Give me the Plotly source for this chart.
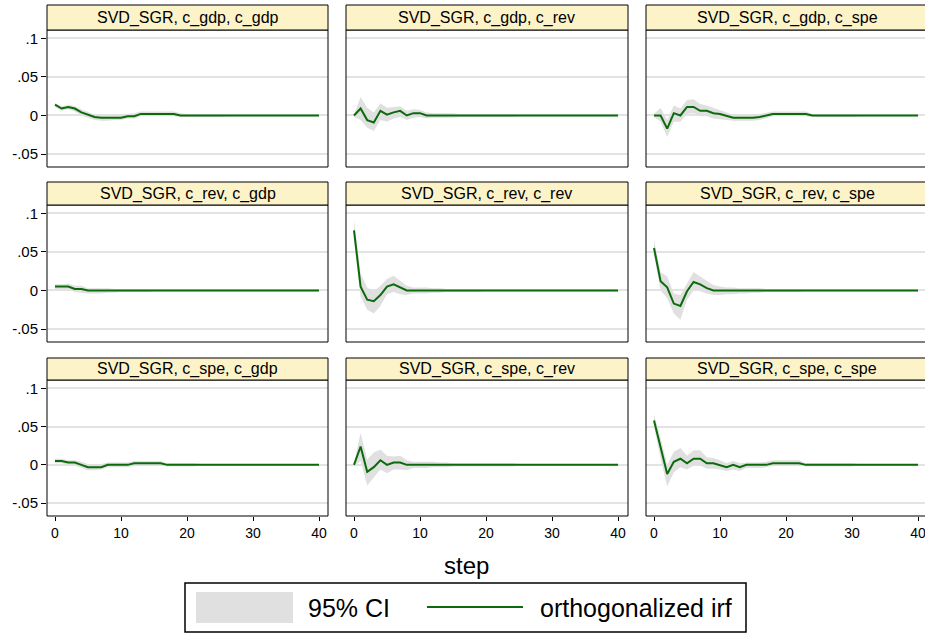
import plotly.graph_objects as go

W, H = 925, 634

steps = list(range(41))
variables = ["c_gdp", "c_rev", "c_spe"]
model = "SVD_SGR"
ytick_vals = [-0.05, 0, 0.05, 0.1]
ytick_text = ["-.05", "0", ".05", ".1"]
xtick_vals = [0, 10, 20, 30, 40]
xtick_text = ["0", "10", "20", "30", "40"]
legend_labels = ["95% CI", "orthogonalized irf"]
x_title = "step"

# impulse c_gdp
irf_gdp_gdp = [0.014, 0.009, 0.011, 0.009, 0.004, 0.001, -0.002, -0.003, -0.003, -0.003, -0.003, -0.001, -0.001, 0.002, 0.002, 0.002, 0.002, 0.002, 0.002, 0.0, 0.0,
               0.0, 0.0, 0.0, 0.0, 0.0, 0.0, 0.0, 0.0, 0.0, 0.0, 0.0, 0.0, 0.0, 0.0, 0.0, 0.0, 0.0, 0.0, 0.0, 0.0]
lo_gdp_gdp = [0.011, 0.006, 0.008, 0.005, 0.0, -0.003, -0.006, -0.007, -0.007, -0.006, -0.006, -0.004, -0.004, -0.001, -0.001, -0.001, -0.001, -0.001, -0.001, -0.002, -0.002,
              -0.002, -0.002, -0.002, -0.002, -0.002, -0.001, -0.001, -0.001, -0.001, -0.001, -0.001, -0.001, -0.001, -0.001, -0.001, -0.001, -0.001, -0.001, -0.001, -0.001]
hi_gdp_gdp = [0.016, 0.012, 0.014, 0.012, 0.008, 0.004, 0.001, 0.0, 0.0, 0.001, 0.001, 0.002, 0.003, 0.005, 0.005, 0.005, 0.005, 0.005, 0.005, 0.003, 0.002,
              0.002, 0.002, 0.002, 0.002, 0.002, 0.001, 0.001, 0.001, 0.001, 0.001, 0.001, 0.001, 0.001, 0.001, 0.001, 0.001, 0.001, 0.001, 0.001, 0.001]

irf_gdp_rev = [0.0, 0.009, -0.006, -0.009, 0.006, 0.001, 0.004, 0.006, 0.0, 0.003, 0.003, 0.0, 0.0, 0.0, 0.0, 0.0, 0.0, 0.0, 0.0, 0.0, 0.0,
               0.0, 0.0, 0.0, 0.0, 0.0, 0.0, 0.0, 0.0, 0.0, 0.0, 0.0, 0.0, 0.0, 0.0, 0.0, 0.0, 0.0, 0.0, 0.0, 0.0]
lo_gdp_rev = [-0.002, -0.006, -0.016, -0.020, -0.006, -0.008, -0.004, -0.002, -0.006, -0.003, -0.002, -0.004, -0.003, -0.003, -0.003, -0.003, -0.002, -0.002, -0.002, -0.002, -0.002,
              -0.002, -0.002, -0.002, -0.002, -0.001, -0.001, -0.001, -0.001, -0.001, -0.001, -0.001, -0.001, -0.001, -0.001, -0.001, -0.001, -0.001, -0.001, -0.001, -0.001]
hi_gdp_rev = [0.002, 0.024, 0.010, 0.004, 0.016, 0.010, 0.011, 0.012, 0.006, 0.008, 0.007, 0.004, 0.003, 0.003, 0.003, 0.003, 0.002, 0.002, 0.002, 0.002, 0.002,
              0.002, 0.002, 0.002, 0.002, 0.001, 0.001, 0.001, 0.001, 0.001, 0.001, 0.001, 0.001, 0.001, 0.001, 0.001, 0.001, 0.001, 0.001, 0.001, 0.001]

irf_gdp_spe = [0.0, 0.0, -0.017, 0.003, 0.0, 0.011, 0.011, 0.006, 0.006, 0.003, 0.002, 0.0, -0.003, -0.003, -0.003, -0.003, -0.002, 0.0, 0.002, 0.002, 0.002,
               0.002, 0.002, 0.002, 0.0, 0.0, 0.0, 0.0, 0.0, 0.0, 0.0, 0.0, 0.0, 0.0, 0.0, 0.0, 0.0, 0.0, 0.0, 0.0, 0.0]
lo_gdp_spe = [-0.002, -0.008, -0.028, -0.008, -0.008, 0.002, 0.003, -0.001, -0.001, -0.004, -0.005, -0.006, -0.007, -0.007, -0.007, -0.007, -0.006, -0.003, -0.001, -0.001, -0.001,
              -0.001, -0.001, -0.001, -0.002, -0.002, -0.002, -0.002, -0.002, -0.002, -0.002, -0.001, -0.001, -0.001, -0.001, -0.001, -0.001, -0.001, -0.001, -0.001, -0.001]
hi_gdp_spe = [0.002, 0.010, -0.006, 0.013, 0.009, 0.020, 0.021, 0.015, 0.013, 0.010, 0.008, 0.005, 0.001, 0.001, 0.001, 0.001, 0.002, 0.004, 0.005, 0.005, 0.005,
              0.005, 0.005, 0.005, 0.002, 0.002, 0.002, 0.002, 0.002, 0.002, 0.002, 0.001, 0.001, 0.001, 0.001, 0.001, 0.001, 0.001, 0.001, 0.001, 0.001]

# impulse c_rev
irf_rev_gdp = [0.005, 0.005, 0.005, 0.002, 0.002, 0.0, 0.0, 0.0, 0.0, 0.0, 0.0, 0.0, 0.0, 0.0, 0.0, 0.0, 0.0, 0.0, 0.0, 0.0, 0.0,
               0.0, 0.0, 0.0, 0.0, 0.0, 0.0, 0.0, 0.0, 0.0, 0.0, 0.0, 0.0, 0.0, 0.0, 0.0, 0.0, 0.0, 0.0, 0.0, 0.0]
lo_rev_gdp = [0.002, 0.002, 0.001, -0.002, -0.003, -0.004, -0.004, -0.004, -0.003, -0.003, -0.002, -0.002, -0.002, -0.002, -0.002, -0.001, -0.001, -0.001, -0.001, -0.001, -0.001,
              -0.001, -0.001, -0.001, -0.001, -0.001, -0.001, -0.001, -0.001, -0.001, -0.001, -0.001, -0.001, -0.001, -0.001, -0.001, -0.001, -0.001, -0.001, -0.001, -0.001]
hi_rev_gdp = [0.008, 0.008, 0.009, 0.006, 0.006, 0.003, 0.003, 0.003, 0.003, 0.002, 0.002, 0.002, 0.002, 0.002, 0.002, 0.001, 0.001, 0.001, 0.001, 0.001, 0.001,
              0.001, 0.001, 0.001, 0.001, 0.001, 0.001, 0.001, 0.001, 0.001, 0.001, 0.001, 0.001, 0.001, 0.001, 0.001, 0.001, 0.001, 0.001, 0.001, 0.001]

irf_rev_rev = [0.078, 0.005, -0.012, -0.014, -0.006, 0.005, 0.008, 0.004, 0.0, 0.0, 0.0, 0.0, 0.0, 0.0, 0.0, 0.0, 0.0, 0.0, 0.0, 0.0, 0.0,
               0.0, 0.0, 0.0, 0.0, 0.0, 0.0, 0.0, 0.0, 0.0, 0.0, 0.0, 0.0, 0.0, 0.0, 0.0, 0.0, 0.0, 0.0, 0.0, 0.0]
lo_rev_rev = [0.066, -0.008, -0.025, -0.030, -0.020, -0.005, -0.002, -0.005, -0.006, -0.004, -0.004, -0.004, -0.003, -0.003, -0.002, -0.002, -0.002, -0.002, -0.002, -0.002, -0.001,
              -0.001, -0.001, -0.001, -0.001, -0.001, -0.001, -0.001, -0.001, -0.001, -0.001, -0.001, -0.001, -0.001, -0.001, -0.001, -0.001, -0.001, -0.001, -0.001, -0.001]
hi_rev_rev = [0.091, 0.022, 0.004, -0.001, 0.006, 0.015, 0.019, 0.013, 0.006, 0.004, 0.004, 0.004, 0.003, 0.003, 0.002, 0.002, 0.002, 0.002, 0.002, 0.002, 0.001,
              0.001, 0.001, 0.001, 0.001, 0.001, 0.001, 0.001, 0.001, 0.001, 0.001, 0.001, 0.001, 0.001, 0.001, 0.001, 0.001, 0.001, 0.001, 0.001, 0.001]

irf_rev_spe = [0.055, 0.012, 0.004, -0.017, -0.020, -0.001, 0.011, 0.008, 0.003, 0.0, 0.0, 0.0, 0.0, 0.0, 0.0, 0.0, 0.0, 0.0, 0.0, 0.0, 0.0,
               0.0, 0.0, 0.0, 0.0, 0.0, 0.0, 0.0, 0.0, 0.0, 0.0, 0.0, 0.0, 0.0, 0.0, 0.0, 0.0, 0.0, 0.0, 0.0, 0.0]
lo_rev_spe = [0.046, 0.0, -0.010, -0.030, -0.038, -0.012, 0.0, -0.001, -0.004, -0.006, -0.006, -0.005, -0.005, -0.004, -0.004, -0.003, -0.003, -0.002, -0.002, -0.002, -0.002,
              -0.002, -0.002, -0.001, -0.001, -0.001, -0.001, -0.001, -0.001, -0.001, -0.001, -0.001, -0.001, -0.001, -0.001, -0.001, -0.001, -0.001, -0.001, -0.001, -0.001]
hi_rev_spe = [0.066, 0.024, 0.018, -0.004, -0.006, 0.010, 0.024, 0.018, 0.012, 0.007, 0.005, 0.004, 0.004, 0.003, 0.003, 0.003, 0.003, 0.002, 0.002, 0.002, 0.002,
              0.002, 0.002, 0.001, 0.001, 0.001, 0.001, 0.001, 0.001, 0.001, 0.001, 0.001, 0.001, 0.001, 0.001, 0.001, 0.001, 0.001, 0.001, 0.001, 0.001]

# impulse c_spe
irf_spe_gdp = [0.005, 0.005, 0.003, 0.003, 0.0, -0.003, -0.003, -0.003, 0.0, 0.0, 0.0, 0.0, 0.002, 0.002, 0.002, 0.002, 0.002, 0.0, 0.0, 0.0, 0.0,
               0.0, 0.0, 0.0, 0.0, 0.0, 0.0, 0.0, 0.0, 0.0, 0.0, 0.0, 0.0, 0.0, 0.0, 0.0, 0.0, 0.0, 0.0, 0.0, 0.0]
lo_spe_gdp = [0.002, 0.002, 0.0, -0.001, -0.004, -0.007, -0.007, -0.006, -0.003, -0.003, -0.003, -0.003, -0.001, -0.001, -0.001, -0.001, -0.001, -0.002, -0.002, -0.002, -0.002,
              -0.002, -0.001, -0.001, -0.001, -0.001, -0.001, -0.001, -0.001, -0.001, -0.001, -0.001, -0.001, -0.001, -0.001, -0.001, -0.001, -0.001, -0.001, -0.001, -0.001]
hi_spe_gdp = [0.008, 0.008, 0.006, 0.006, 0.004, 0.001, 0.001, 0.001, 0.003, 0.003, 0.003, 0.003, 0.005, 0.005, 0.005, 0.005, 0.005, 0.002, 0.002, 0.002, 0.002,
              0.002, 0.001, 0.001, 0.001, 0.001, 0.001, 0.001, 0.001, 0.001, 0.001, 0.001, 0.001, 0.001, 0.001, 0.001, 0.001, 0.001, 0.001, 0.001, 0.001]

irf_spe_rev = [0.0, 0.024, -0.009, -0.003, 0.006, 0.0, 0.003, 0.003, 0.0, 0.0, 0.0, 0.0, 0.0, 0.0, 0.0, 0.0, 0.0, 0.0, 0.0, 0.0, 0.0,
               0.0, 0.0, 0.0, 0.0, 0.0, 0.0, 0.0, 0.0, 0.0, 0.0, 0.0, 0.0, 0.0, 0.0, 0.0, 0.0, 0.0, 0.0, 0.0, 0.0]
lo_spe_rev = [-0.002, 0.005, -0.027, -0.017, -0.006, -0.011, -0.006, -0.006, -0.007, -0.004, -0.004, -0.004, -0.003, -0.003, -0.003, -0.002, -0.002, -0.002, -0.002, -0.002, -0.002,
              -0.002, -0.002, -0.002, -0.002, -0.001, -0.001, -0.001, -0.001, -0.001, -0.001, -0.001, -0.001, -0.001, -0.001, -0.001, -0.001, -0.001, -0.001, -0.001, -0.001]
hi_spe_rev = [0.002, 0.042, 0.007, 0.016, 0.020, 0.012, 0.011, 0.012, 0.006, 0.004, 0.004, 0.004, 0.004, 0.003, 0.003, 0.002, 0.002, 0.002, 0.002, 0.002, 0.002,
              0.002, 0.002, 0.002, 0.002, 0.001, 0.001, 0.001, 0.001, 0.001, 0.001, 0.001, 0.001, 0.001, 0.001, 0.001, 0.001, 0.001, 0.001, 0.001, 0.001]

irf_spe_spe = [0.058, 0.023, -0.012, 0.004, 0.008, 0.002, 0.008, 0.008, 0.002, 0.002, 0.0, -0.003, 0.0, -0.003, 0.0, 0.0, 0.0, 0.0, 0.002, 0.002, 0.002,
               0.002, 0.002, 0.0, 0.0, 0.0, 0.0, 0.0, 0.0, 0.0, 0.0, 0.0, 0.0, 0.0, 0.0, 0.0, 0.0, 0.0, 0.0, 0.0, 0.0]
lo_spe_spe = [0.050, 0.008, -0.028, -0.010, -0.003, -0.006, -0.001, -0.001, -0.005, -0.005, -0.006, -0.008, -0.006, -0.008, -0.004, -0.004, -0.004, -0.003, -0.001, -0.001, -0.001,
              -0.001, -0.001, -0.002, -0.002, -0.002, -0.002, -0.002, -0.002, -0.002, -0.002, -0.001, -0.001, -0.001, -0.001, -0.001, -0.001, -0.001, -0.001, -0.001, -0.001]
hi_spe_spe = [0.066, 0.035, 0.0, 0.017, 0.022, 0.012, 0.019, 0.019, 0.010, 0.009, 0.006, 0.002, 0.005, 0.002, 0.003, 0.003, 0.003, 0.004, 0.006, 0.006, 0.006,
              0.006, 0.006, 0.002, 0.002, 0.002, 0.002, 0.002, 0.002, 0.002, 0.002, 0.001, 0.001, 0.001, 0.001, 0.001, 0.001, 0.001, 0.001, 0.001, 0.001]

panels = [
    [(irf_gdp_gdp, lo_gdp_gdp, hi_gdp_gdp), (irf_gdp_rev, lo_gdp_rev, hi_gdp_rev), (irf_gdp_spe, lo_gdp_spe, hi_gdp_spe)],
    [(irf_rev_gdp, lo_rev_gdp, hi_rev_gdp), (irf_rev_rev, lo_rev_rev, hi_rev_rev), (irf_rev_spe, lo_rev_spe, hi_rev_spe)],
    [(irf_spe_gdp, lo_spe_gdp, hi_spe_gdp), (irf_spe_rev, lo_spe_rev, hi_spe_rev), (irf_spe_spe, lo_spe_spe, hi_spe_spe)],
]

# ---- layout geometry (pixels) ----
FONT = "Liberation Sans, Arial, sans-serif"
BAND = "#e0e0e0"
LINE = "#0b6b0b"
STRIP = "#fcf3c9"
GRID = "#e3e3e3"
col_px = [(47, 328), (346, 628), (646, 928)]
row_px = [(30, 167), (205, 342), (380, 516)]
hdr_px = [(5, 30), (182, 205), (358, 380)]
PX_PER_STEP = 6.6
X0_OFF = 8
Y_RANGE = [-0.0668, 0.1108]


def px_x(p):
    return p / W


def px_y(p):
    return 1 - p / H


fig = go.Figure()
layout = dict(
    width=W, height=H, margin=dict(l=0, r=0, t=0, b=0),
    paper_bgcolor="white", plot_bgcolor="white", showlegend=False,
    font=dict(family=FONT, color="black"),
)
shapes = []
annotations = []

k = 0
for r in range(3):
    for c in range(3):
        k += 1
        sfx = "" if k == 1 else str(k)
        irf, lo, hi = panels[r][c]
        xa, ya = "x" + sfx, "y" + sfx
        fig.add_trace(go.Scatter(x=steps, y=lo, mode="lines", line=dict(width=0, color=BAND),
                                 xaxis=xa, yaxis=ya, hoverinfo="skip"))
        fig.add_trace(go.Scatter(x=steps, y=hi, mode="lines", line=dict(width=0, color=BAND),
                                 fill="tonexty", fillcolor=BAND, xaxis=xa, yaxis=ya, hoverinfo="skip"))
        fig.add_trace(go.Scatter(x=steps, y=irf, mode="lines", line=dict(width=2, color=LINE),
                                 xaxis=xa, yaxis=ya))
        x_left, x_right = col_px[c]
        x_right_vis = min(x_right, W)
        rng_lo = -X0_OFF / PX_PER_STEP
        rng_hi = (x_right_vis - x_left - X0_OFF) / PX_PER_STEP
        y_top, y_bot = row_px[r]
        layout["xaxis" + sfx] = dict(
            domain=[px_x(x_left), px_x(x_right_vis)], range=[rng_lo, rng_hi], anchor=ya,
            showgrid=False, zeroline=False, showline=False,
            tickvals=xtick_vals, ticktext=xtick_text,
            showticklabels=(r == 2), ticks="outside" if r == 2 else "",
            ticklen=4, tickcolor="black", tickwidth=1, ticklabeloverflow="allow",
            tickfont=dict(size=14, family=FONT, color="black"),
        )
        layout["yaxis" + sfx] = dict(
            domain=[px_y(y_bot), px_y(y_top)], range=Y_RANGE, anchor=xa,
            showgrid=True, gridcolor=GRID, gridwidth=2, zeroline=False, showline=False,
            tickvals=ytick_vals, ticktext=ytick_text,
            showticklabels=(c == 0), ticks="outside" if c == 0 else "",
            ticklen=5, tickcolor="black", tickwidth=1,
            tickfont=dict(size=15, family=FONT, color="black"),
        )
        # plot border
        shapes.append(dict(type="rect", xref="paper", yref="paper", layer="above",
                           x0=px_x(x_left), x1=px_x(x_right), y0=px_y(y_bot), y1=px_y(y_top),
                           line=dict(color="black", width=1), fillcolor="rgba(0,0,0,0)"))
        # header strip
        h_top, h_bot = hdr_px[r]
        shapes.append(dict(type="rect", xref="paper", yref="paper", layer="above",
                           x0=px_x(x_left), x1=px_x(x_right), y0=px_y(h_bot), y1=px_y(h_top),
                           line=dict(color="black", width=1), fillcolor=STRIP))
        annotations.append(dict(xref="paper", yref="paper", x=px_x((x_left + x_right) / 2),
                                y=px_y((h_top + h_bot) / 2), xanchor="center", yanchor="middle",
                                text=f"{model}, {variables[r]}, {variables[c]}", showarrow=False,
                                font=dict(size=16, family=FONT, color="black")))

# x title
annotations.append(dict(xref="paper", yref="paper", x=px_x(467), y=px_y(565),
                        xanchor="center", yanchor="middle", text=x_title, showarrow=False,
                        font=dict(size=24, family=FONT, color="black")))

# legend (drawn)
shapes.append(dict(type="rect", xref="paper", yref="paper", x0=px_x(185), x1=px_x(746),
                   y0=px_y(632), y1=px_y(583), line=dict(color="black", width=1.5),
                   fillcolor="white"))
shapes.append(dict(type="rect", xref="paper", yref="paper", x0=px_x(196), x1=px_x(293),
                   y0=px_y(623), y1=px_y(592), line=dict(width=0), fillcolor=BAND))
annotations.append(dict(xref="paper", yref="paper", x=px_x(306), y=px_y(608),
                        xanchor="left", yanchor="middle", text=legend_labels[0], showarrow=False,
                        font=dict(size=25, family=FONT, color="black")))
shapes.append(dict(type="line", xref="paper", yref="paper", x0=px_x(427), x1=px_x(523),
                   y0=px_y(607), y1=px_y(607), line=dict(color=LINE, width=2)))
annotations.append(dict(xref="paper", yref="paper", x=px_x(538), y=px_y(608),
                        xanchor="left", yanchor="middle", text=legend_labels[1], showarrow=False,
                        font=dict(size=25, family=FONT, color="black")))

layout["shapes"] = shapes
layout["annotations"] = annotations
fig.update_layout(**layout)
fig.write_html("out.html")
